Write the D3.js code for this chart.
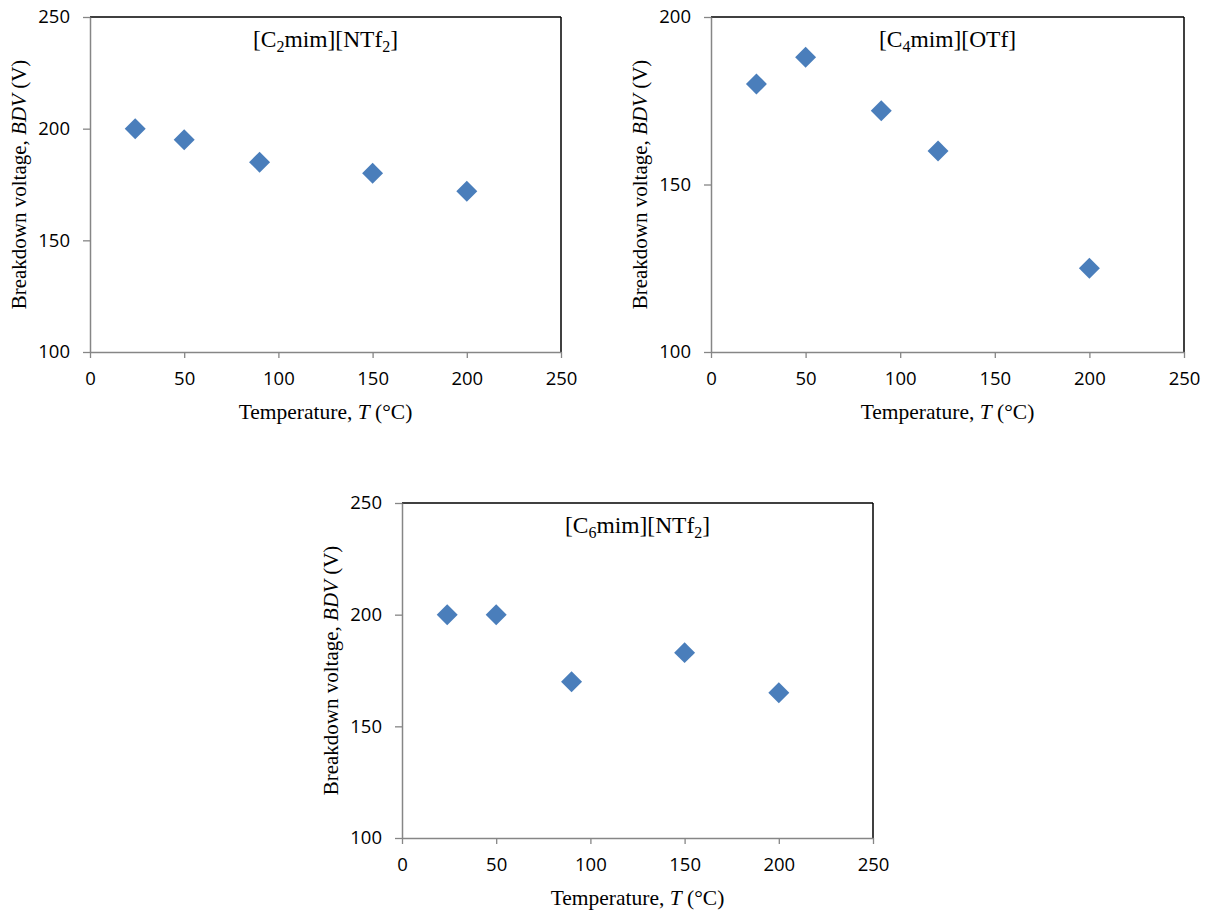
<!DOCTYPE html>
<html>
<head>
<meta charset="utf-8">
<script src="https://cdn.jsdelivr.net/npm/d3@7"></script>
<style>
  html, body { margin: 0; padding: 0; background: #fff; }
  svg { display: block; }
</style>
</head>
<body>
<script>
// Breakdown voltage vs temperature for three ionic liquids
const temperatures1 = [24, 50, 90, 150, 200];
const bdv1 = [200, 195, 185, 180, 172];

const temperatures2 = [24, 50, 90, 120, 200];
const bdv2 = [180, 188, 172, 160, 125];

const temperatures3 = [24, 50, 90, 150, 200];
const bdv3 = [200, 200, 170, 183, 165];

const xTicks = [0, 50, 100, 150, 200, 250];
const yTicksA = [100, 150, 200, 250];
const yTicksB = [100, 150, 200];

const xLabel = "Temperature, ";
const yLabel = "Breakdown voltage, ";

const W = 1210, H = 913;
const svg = d3.select("body").append("svg").attr("width", W).attr("height", H);

const SANS = "'Open Sans', sans-serif";
const SERIF = "'Liberation Serif', 'Times New Roman', serif";
const MARKER = "#4a7ebb";
const AXIS_GRAY = "#868686";

const panels = [
  { box: { l: 90, r: 561, t: 17, b: 352 }, yDomain: [100, 250], yTicks: yTicksA,
    xs: temperatures1, ys: bdv1, title: ["[C", "2", "mim][NTf", "2", "]"] },
  { box: { l: 711, r: 1184, t: 17, b: 352 }, yDomain: [100, 200], yTicks: yTicksB,
    xs: temperatures2, ys: bdv2, title: ["[C", "4", "mim][OTf]"] },
  { box: { l: 402, r: 873, t: 503, b: 838 }, yDomain: [100, 250], yTicks: yTicksA,
    xs: temperatures3, ys: bdv3, title: ["[C", "6", "mim][NTf", "2", "]"] }
];

panels.forEach(p => {
  const { l, r, t, b } = p.box;
  const x = d3.scaleLinear().domain([0, 250]).range([l, r]);
  const y = d3.scaleLinear().domain(p.yDomain).range([b, t]);
  const g = svg.append("g");

  // frame: top and right edges in black
  g.append("line").attr("x1", l).attr("x2", r).attr("y1", t).attr("y2", t)
    .attr("stroke", "#000").attr("stroke-width", 1.5);
  g.append("line").attr("x1", r).attr("x2", r).attr("y1", t).attr("y2", b)
    .attr("stroke", "#000").attr("stroke-width", 1.5);

  // y axis
  const yAxis = g.append("g").attr("transform", `translate(${l},0)`)
    .call(d3.axisLeft(y).tickValues(p.yTicks).tickSize(7).tickPadding(13).tickSizeOuter(0));
  // x axis
  const xAxis = g.append("g").attr("transform", `translate(0,${b})`)
    .call(d3.axisBottom(x).tickValues(xTicks).tickSize(6).tickPadding(14).tickSizeOuter(0));

  [yAxis, xAxis].forEach(ax => {
    ax.select(".domain").attr("stroke", AXIS_GRAY).attr("stroke-width", 1.5);
    ax.selectAll(".tick line").attr("stroke", AXIS_GRAY).attr("stroke-width", 1.3);
    ax.selectAll(".tick text").attr("fill", "#000")
      .style("font-family", SANS).style("font-size", "18.5px");
  });

  // x axis title
  const xt = g.append("text").attr("x", (l + r) / 2).attr("y", b + 67)
    .attr("text-anchor", "middle").style("font-family", SERIF).style("font-size", "21.5px");
  xt.append("tspan").text(xLabel);
  xt.append("tspan").style("font-style", "italic").text("T");
  xt.append("tspan").text(" (\u00B0C)");

  // y axis title
  const cy = (t + b) / 2, cx = l - 71;
  const yt = g.append("text").attr("transform", `translate(${cx},${cy}) rotate(-90)`)
    .attr("text-anchor", "middle").attr("dy", "0.35em")
    .style("font-family", SERIF).style("font-size", "21px");
  yt.append("tspan").text(yLabel);
  yt.append("tspan").style("font-style", "italic").text("BDV");
  yt.append("tspan").text(" (V)");

  // panel title with subscripts
  const tt = g.append("text").attr("x", (l + r) / 2).attr("y", t + 30)
    .attr("text-anchor", "middle").style("font-family", SERIF).style("font-size", "23.5px");
  p.title.forEach((s, i) => {
    const isSub = i % 2 === 1;
    const ts = tt.append("tspan").text(s);
    if (isSub) ts.attr("dy", 5).style("font-size", "16px");
    else if (i > 0) ts.attr("dy", -5);
  });

  // data markers (diamonds)
  g.selectAll("path.pt").data(p.xs.map((v, i) => [v, p.ys[i]])).enter()
    .append("path").attr("class", "pt")
    .attr("transform", d => `translate(${x(d[0])},${y(d[1])}) rotate(45)`)
    .attr("d", d3.symbol().type(d3.symbolSquare).size(220))
    .attr("fill", MARKER);
});
</script>
</body>
</html>
